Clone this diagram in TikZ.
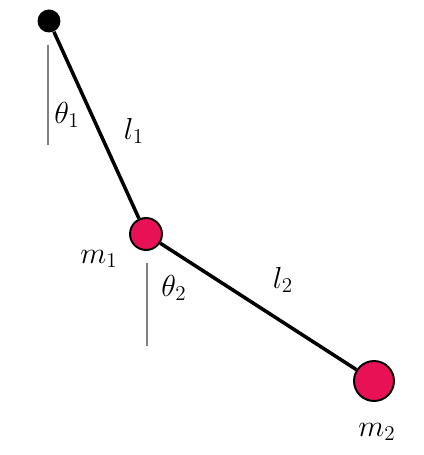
\documentclass[tikz,border=0pt]{standalone}
\usepackage{amsmath}
\definecolor{massRed}{RGB}{233,17,86}

\begin{document}
\begin{tikzpicture}[x=0.02cm,y=-0.02cm,%%
  pivotStyle/.style={circle,inner sep=0pt,minimum size=0.46cm,fill=black},%%
  massStyle/.style={circle,inner sep=0pt,draw=black,line width=1.1pt,fill=massRed},%%
  rodStyle/.style={-,line width=2pt},%%
  refStyle/.style={-,gray,line width=1.2pt},%%
  labelStyle/.style={inner sep=0pt,font=\fontsize{17.5}{20}\selectfont}%%
]
%%
\useasboundingbox (0,0) rectangle (423,455);
%%
\coordinate (refOneTop) at (48,45);
\coordinate (refOneBottom) at (48,145);
\coordinate (refTwoTop) at (147,263);
\coordinate (refTwoBottom) at (147,346);
%%
%% The pivot and the two masses.
\node[pivotStyle] (pivot) at (49,21) {};
\node[massStyle,minimum size=0.64cm] (massOne) at (146,234) {};
\node[massStyle,minimum size=0.8cm] (massTwo) at (374,381) {};
%% Draw the rods.
\draw[rodStyle] (pivot) -- (massOne);
\draw[rodStyle] (massOne) -- (massTwo);
%% Draw the vertical reference lines.
\draw[refStyle] (refOneTop) -- (refOneBottom);
\draw[refStyle] (refTwoTop) -- (refTwoBottom);
%% Label angles, lengths and masses.
\node[labelStyle] (thetaOne) at (67,115) {$\theta_1$};
\node[labelStyle] (lengthOne) at (134,131) {$l_1$};
\node[labelStyle] (massOneLabel) at (99,259) {$m_1$};
\node[labelStyle] (thetaTwo) at (174,288) {$\theta_2$};
\node[labelStyle] (lengthTwo) at (283,280) {$l_2$};
\node[labelStyle] (massTwoLabel) at (377,432) {$m_2$};
\end{tikzpicture}
\end{document}
